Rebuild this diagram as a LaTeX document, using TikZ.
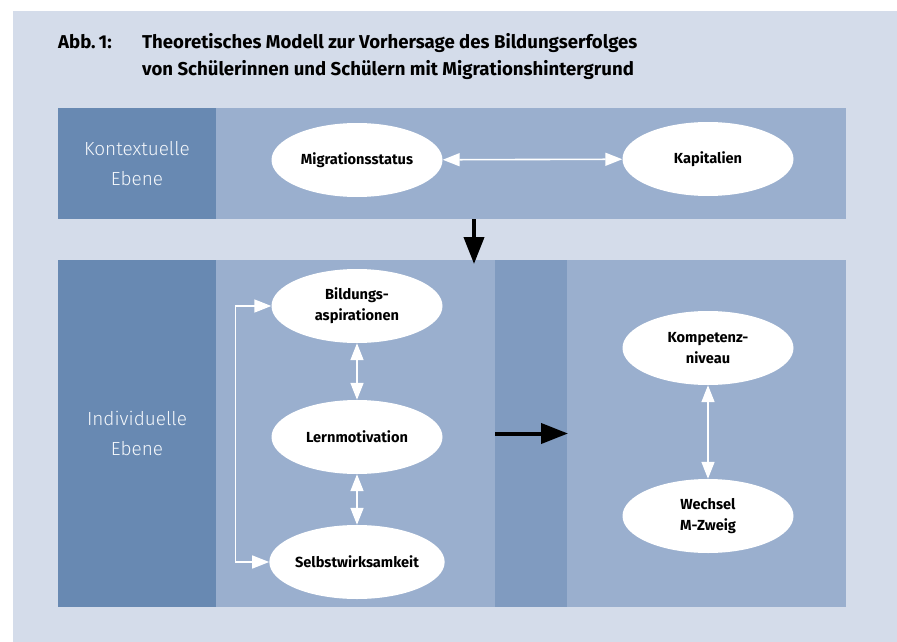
\documentclass[tikz,border=0pt]{standalone}
\usepackage{fontspec}
\setmainfont{Fira Sans}
\newfontfamily\lightfont{Fira Sans Light}
\usepackage{xcolor}
\definecolor{pagebg}{HTML}{D4DCEA}
\definecolor{levelblue}{HTML}{6889B2}
\definecolor{panelblue}{HTML}{9AAFCE}
\definecolor{colblue}{HTML}{809BC0}
\definecolor{leveltext}{HTML}{F4F7FB}
\usetikzlibrary{arrows.meta,positioning,shapes.geometric}
\tikzset{
  panelbox/.style={
    rectangle, inner sep=0pt, outer sep=0pt, anchor=north west
  },
  levelnode/.style={
    panelbox, fill=levelblue, minimum width=158pt, align=center,
    text=leveltext, font=\lightfont\fontsize{19}{30}\selectfont
  },
  varnode/.style={
    ellipse, fill=white, inner sep=0pt, minimum width=171pt,
    minimum height=74pt, align=center,
    font=\bfseries\fontsize{14.6}{21}\selectfont
  },
  twoway/.style={{Triangle[length=17pt,width=13pt]}-{Triangle[length=17pt,width=13pt]},
    draw=white, line width=1.6pt},
  bigarrow/.style={-{Triangle[length=27pt,width=20pt]}, line width=4pt, draw=black}
}

\begin{document}
\begin{tikzpicture}[x=1pt,y=-1pt]
  \useasboundingbox (0,0) rectangle (897,642);
  \fill[pagebg] (13,11) rectangle (897,642);

  % title
  \node[anchor=base west, inner sep=0pt, font=\bfseries\fontsize{18.6}{26}\selectfont] (abb) at (58,49) {Abb.\,1:};
  \node[anchor=base west, inner sep=0pt, align=left, font=\bfseries\fontsize{18.6}{26}\selectfont] (title) at (142,75)
    {Theoretisches Modell zur Vorhersage des Bildungserfolges\\von Schülerinnen und Schülern mit Migrationshintergrund};

  % contextual level
  \node[panelbox, fill=panelblue, minimum width=630pt, minimum height=111pt] (ctxpanel) at (216,108) {};
  \node[levelnode, minimum height=111pt] (ctxlevel) at (58,108) {Kontextuelle\\Ebene};

  % individual level
  \node[panelbox, fill=panelblue, minimum width=279pt, minimum height=347pt] (indpanel) at (216,260) {};
  \node[levelnode, minimum height=347pt] (indlevel) at (58,260) {Individuelle\\Ebene};
  \node[panelbox, fill=colblue, minimum width=72pt, minimum height=347pt] (midcol) at (495,260) {};
  \node[panelbox, fill=panelblue, minimum width=279pt, minimum height=347pt] (outpanel) at (567,260) {};

  % variables
  \node[varnode] (migration) at (357,160) {Migrationsstatus};
  \node[varnode] (kapital) at (708,159) {Kapitalien};
  \node[varnode] (aspiration) at (357,306) {Bildungs-\\aspirationen};
  \node[varnode] (lernmot) at (357,437) {Lernmotivation};
  \node[varnode] (selbst) at (357,562) {Selbstwirksamkeit};
  \node[varnode] (kompetenz) at (708,348) {Kompetenz-\\niveau};
  \node[varnode] (wechsel) at (708,516) {Wechsel\\M-Zweig};

  % connectors
  \draw[twoway] (migration) -- (kapital);
  \draw[twoway] (aspiration) -- (lernmot);
  \draw[twoway] (lernmot) -- (selbst);
  \draw[twoway] (kompetenz) -- (wechsel);
  \draw[twoway] (aspiration.west) -- ++(-36,0) |- (selbst.west);

  \coordinate (dropstart) at (474,219);
  \coordinate (dropend) at (474,264);
  \draw[bigarrow] (dropstart) -- (dropend);
  \draw[bigarrow] (midcol.west) -- ([xshift=1pt]midcol.east);
\end{tikzpicture}
\end{document}
